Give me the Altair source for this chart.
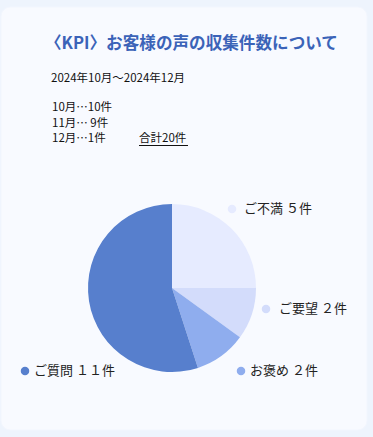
import altair as alt
import pandas as pd

# ---- data ----
categories = ["ご不満", "ご要望", "お褒め", "ご質問"]
counts = [5, 2, 2, 11]
labels = ["ご不満 ５件", "ご要望 ２件", "お褒め ２件", "ご質問 １１件"]
colors = ["#e6ebff", "#d3dcfb", "#8fadee", "#577fcd"]

title_text = ["〈KPI〉お客様の声の収集件数について"]
period_text = ["2024年10月～2024年12月"]
monthly_lines = ["10月…10件", "11月… 9件", "12月…1件"]
total_text = ["合計20件"]

FONT = "Noto Sans CJK JP"
W, H = 373, 437

df = pd.DataFrame({
    "cat": categories,
    "count": counts,
    "label": labels,
    "order": list(range(len(categories))),
})
one = pd.DataFrame({"k": [0]})

color_scale = alt.Scale(domain=categories, range=colors)

# card background
card = alt.Chart(one).mark_rect(
    fill="#f8faff", cornerRadius=9, stroke="#f2f6fe", strokeWidth=1
).encode(x=alt.value(1), x2=alt.value(367), y=alt.value(7), y2=alt.value(430))

# pie
pie = alt.Chart(df).mark_arc(outerRadius=84).encode(
    theta=alt.Theta("count:Q", stack=True),
    color=alt.Color("cat:N", scale=color_scale, legend=None),
    order=alt.Order("order:Q"),
    x=alt.value(172),
    y=alt.value(288),
)

# label placement (dot x, text x, y)
label_pos = {
    "ご不満": (232, 244, 209),
    "ご要望": (266, 279, 309),
    "お褒め": (241, 250, 371),
    "ご質問": (25, 34, 371),
}

layers = [card, pie]
for cat in categories:
    dx, tx, ty = label_pos[cat]
    sub = alt.Chart(df).transform_filter(alt.datum.cat == cat)
    layers.append(
        sub.mark_circle(size=72, opacity=1).encode(
            x=alt.value(dx), y=alt.value(ty),
            color=alt.Color("cat:N", scale=color_scale, legend=None),
        )
    )
    layers.append(
        sub.mark_text(align="left", baseline="middle", font=FONT, fontSize=13,
                      color="#222222").encode(
            x=alt.value(tx), y=alt.value(ty), text="label:N"
        )
    )

# title
layers.append(
    alt.Chart(pd.DataFrame({"t": title_text})).mark_text(
        align="left", baseline="middle", font=FONT, fontSize=16.6,
        fontWeight="bold", color="#3b63b8"
    ).encode(x=alt.value(45), y=alt.value(44), text="t:N")
)
layers.append(
    alt.Chart(pd.DataFrame({"t": period_text})).mark_text(
        align="left", baseline="middle", font=FONT, fontSize=11.5, color="#111111"
    ).encode(x=alt.value(51), y=alt.value(79), text="t:N")
)
line_y = [108, 124, 139]
for txt, yy in zip(monthly_lines, line_y):
    layers.append(
        alt.Chart(pd.DataFrame({"t": [txt]})).mark_text(
            align="left", baseline="middle", font=FONT, fontSize=11.5, color="#111111"
        ).encode(x=alt.value(52), y=alt.value(yy), text="t:N")
    )
layers.append(
    alt.Chart(pd.DataFrame({"t": total_text})).mark_text(
        align="left", baseline="middle", font=FONT, fontSize=11.5, color="#111111"
    ).encode(x=alt.value(139), y=alt.value(139), text="t:N")
)
layers.append(
    alt.Chart(one).mark_rule(color="#111111", strokeWidth=1).encode(
        x=alt.value(139), x2=alt.value(188), y=alt.value(145.5)
    )
)

chart = alt.layer(*layers).properties(
    width=W, height=H, padding=0, autosize=alt.AutoSizeParams(type="none"),
    background="#eef4fd",
).configure_view(stroke=None)

chart.save("out.html", embed_options={"renderer": "svg", "actions": False})
